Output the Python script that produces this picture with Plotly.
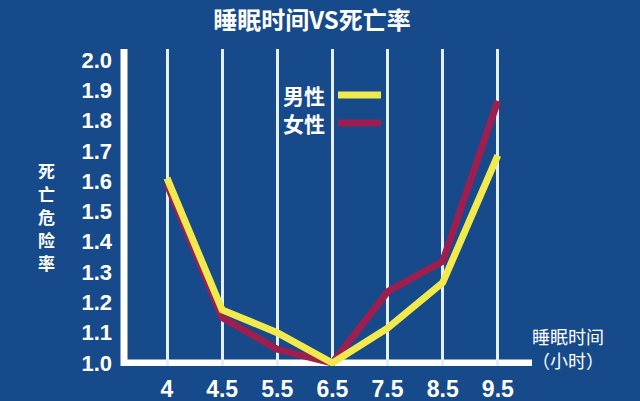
import plotly.graph_objects as go

# 睡眠时间 (小时) 与 死亡危险率
hours = ["4", "4.5", "5.5", "6.5", "7.5", "8.5", "9.5"]
male = [1.61, 1.175, 1.10, 1.0, 1.115, 1.265, 1.685]
female = [1.59, 1.15, 1.045, 1.0, 1.235, 1.335, 1.865]
y_ticks = [1.0, 1.1, 1.2, 1.3, 1.4, 1.5, 1.6, 1.7, 1.8, 1.9, 2.0]
y_title = ["死", "亡", "危", "险", "率"]

BG = "#174a8b"
YELLOW = "#f2ea4c"
RED = "#9c1f4f"
WHITE = "#ffffff"
FONT = "Liberation Sans, Noto Sans CJK SC"
CJK = "Noto Sans CJK SC"

W, H = 640, 401
L, R, T, B = 124, 108, 49, 35
PW, PH = W - L - R, H - T - B


def px(x):
    return (x - L) / PW


def py(y):
    return 1 - (y - T) / PH


fig = go.Figure()
fig.add_trace(go.Scatter(x=hours, y=female, mode="lines", name="女性",
                         line=dict(color=RED, width=7), cliponaxis=False))
fig.add_trace(go.Scatter(x=hours, y=male, mode="lines", name="男性",
                         line=dict(color=YELLOW, width=7), cliponaxis=False))

# thick white axes
fig.add_shape(type="line", xref="paper", yref="y", x0=0, x1=1, y0=1.0, y1=1.0,
              line=dict(color=WHITE, width=7), layer="between")
fig.add_shape(type="line", xref="paper", yref="paper", x0=0, x1=0, y0=0.0, y1=1.0,
              line=dict(color=WHITE, width=7), layer="between")

# legend drawn by hand: text on the left, line sample on the right
for txt, col, yy in [("男性", YELLOW, 95), ("女性", RED, 123)]:
    fig.add_annotation(xref="paper", yref="paper", x=px(304), y=py(yy),
                       text=txt, showarrow=False, xanchor="center", yanchor="middle",
                       font=dict(family=CJK, size=21, color=WHITE, weight="bold"))
    fig.add_shape(type="line", xref="paper", yref="paper",
                  x0=px(338), x1=px(381), y0=py(yy), y1=py(yy),
                  line=dict(color=col, width=7), layer="above")

for i, ch in enumerate(y_title):
    fig.add_annotation(xref="paper", yref="paper", x=px(46), y=py(170 + 23 * i),
                       text=ch, showarrow=False, xanchor="center", yanchor="middle",
                       font=dict(family=CJK, size=17, color=WHITE, weight="bold"))

fig.add_annotation(xref="paper", yref="paper", x=px(568), y=py(336),
                   text="睡眠时间", showarrow=False, xanchor="center", yanchor="middle",
                   font=dict(family=CJK, size=18, color=WHITE))
fig.add_annotation(xref="paper", yref="paper", x=px(568), y=py(360),
                   text="（小时）", showarrow=False, xanchor="center", yanchor="middle",
                   font=dict(family=CJK, size=18, color=WHITE))

fig.update_layout(
    width=W, height=H,
    margin=dict(l=L, r=R, t=T, b=B, autoexpand=False),
    paper_bgcolor=BG, plot_bgcolor=BG,
    showlegend=False,
    title=dict(text="睡眠时间VS死亡率", x=312 / W, xanchor="center", y=1 - 21 / H,
               yanchor="middle", font=dict(family=CJK, size=24, color=WHITE, weight="bold")),
    xaxis=dict(type="category", range=[-0.78, 6.62], showgrid=True, gridcolor="#e4f0ff",
               gridwidth=2.5, zeroline=False, showline=False, ticks="", automargin=False,
               ticklabelstandoff=7,
               tickfont=dict(family=FONT, size=23, color=WHITE, weight="bold")),
    yaxis=dict(range=[0.99, 2.036], tickvals=y_ticks, tickformat=".1f", showgrid=False,
               zeroline=False, showline=False, ticks="", automargin=False,
               ticklabelstandoff=11,
               tickfont=dict(family=FONT, size=22, color=WHITE, weight="bold")),
)

fig.write_html("out.html", config={"displayModeBar": False},
               post_script="document.body.style.margin='0';")
